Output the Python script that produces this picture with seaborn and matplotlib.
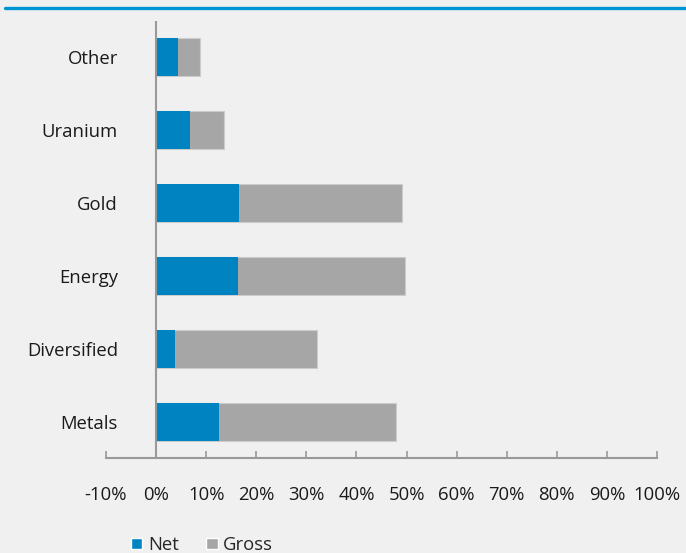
import matplotlib
matplotlib.use("Agg")
import matplotlib.pyplot as plt
from matplotlib.lines import Line2D
from matplotlib.patches import Patch
import pandas as pd
import seaborn as sns

categories = ["Other", "Uranium", "Gold", "Energy", "Diversified", "Metals"]
net = [4.4, 6.8, 16.6, 16.4, 3.8, 12.6]
gross = [4.4, 6.8, 32.5, 33.3, 28.3, 35.3]
ticks = list(range(-10, 101, 10))

BLUE = "#0083c1"
GREY = "#a6a6a6"
BG = "#f0f0f0"

df = pd.DataFrame({"cat": categories, "net": net, "gross": gross})
df["total"] = df["net"] + df["gross"]

sns.set_theme(style="white")
plt.rcParams["font.family"] = ["Open Sans", "DejaVu Sans"]

fig = plt.figure(figsize=(6.86, 5.53), dpi=100, facecolor=BG)
ax = fig.add_axes([0.1545, 0.1709, 0.8032, 0.7920], facecolor=BG)

sns.barplot(data=df, y="cat", x="total", order=categories, color=GREY,
            width=0.53, edgecolor="#cccccc", linewidth=0.8, saturation=1, ax=ax)
sns.barplot(data=df, y="cat", x="net", order=categories, color=BLUE,
            width=0.53, linewidth=0, saturation=1, ax=ax)

ax.set_xlim(-10, 100)
ax.set_ylim(5.5, -0.5)
ax.set_xticks(ticks)
ax.set_xticklabels([f"{t}%" for t in ticks])
ax.set_xlabel("")
ax.set_ylabel("")

for s in ["top", "right", "left"]:
    ax.spines[s].set_visible(False)
ax.spines["bottom"].set_color("#999999")
ax.spines["bottom"].set_linewidth(1.5)
ax.axvline(0, color="#999999", lw=1.5, zorder=5)

ax.tick_params(axis="x", direction="in", length=5, width=1.2, color="#999999",
               pad=20, labelsize=13.3, labelcolor="#1a1a1a", bottom=True)
ax.tick_params(axis="y", length=0, pad=-8.6, labelsize=13.3, labelcolor="#1a1a1a")
for lab in ax.get_yticklabels():
    lab.set_horizontalalignment("right")

fig.add_artist(Line2D([5 / 686, 1], [1 - 7.5 / 553, 1 - 7.5 / 553],
                      color="#0096d6", lw=2.4, transform=fig.transFigure))

handles = [Patch(facecolor=BLUE, label="Net"), Patch(facecolor=GREY, label="Gross")]
fig.legend(handles=handles, loc="center left", bbox_to_anchor=(124 / 686, 1 - 545 / 553),
           ncol=2, frameon=False, fontsize=13.3, handlelength=0.6, handleheight=0.6,
           handletextpad=0.3, columnspacing=1.5, borderaxespad=0)

fig.savefig("out.png", dpi=100, facecolor=BG)
